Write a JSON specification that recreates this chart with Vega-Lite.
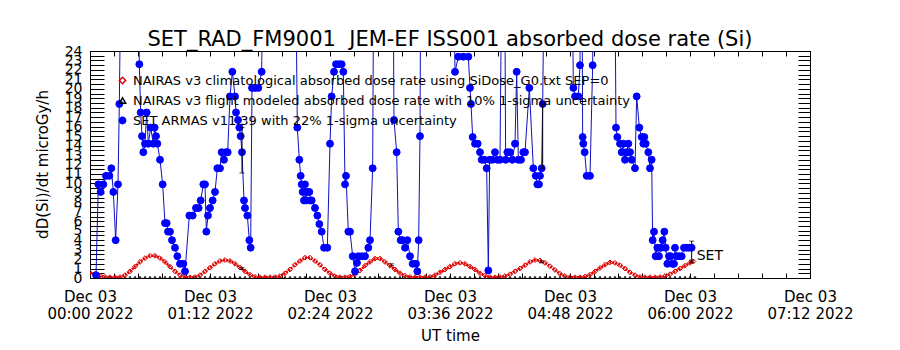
{
  "$schema": "https://vega.github.io/schema/vega-lite/v6.json",
  "width": 720,
  "height": 227,
  "autosize": "none",
  "padding": {"left": 90, "top": 51, "right": 90, "bottom": 72},
  "background": "white",
  "config": {
    "font": "DejaVu Sans",
    "view": {"stroke": "black", "strokeWidth": 1},
    "axis": {"domainColor": "black", "tickColor": "black", "labelColor": "black", "titleColor": "black", "grid": false, "labelFlush": false, "labelOverlap": false, "titleFontWeight": "normal"}
  },
  "title": {"text": "SET_RAD_FM9001\u00a0\u00a0JEM-EF ISS001 absorbed dose rate (Si)", "fontSize": 21, "fontWeight": "normal", "anchor": "middle", "offset": -6, "color": "black", "font": "DejaVu Sans"},
  "datasets": {
    "blue": [
      {"t":3.6,"v":0.3,"s":"SET"},{"t":5,"v":9.9,"s":"SET"},{"t":6.4,"v":9.1,"s":"SET"},{"t":8,"v":9.9,"s":"SET"},{"t":9.6,"v":10.8,"s":"SET"},{"t":11.6,"v":10.8,"s":"SET"},{"t":12.8,"v":11.6,"s":"SET"},{"t":14,"v":9.1,"s":"SET"},{"t":15.4,"v":4.0,"s":"SET"},{"t":16.8,"v":9.9,"s":"SET"},{"t":17.6,"v":18.4,"s":"SET"},{"t":19,"v":40,"s":"SET"},{"t":28.6,"v":40,"s":"SET"},{"t":29.6,"v":22.6,"s":"SET"},{"t":30.4,"v":17.5,"s":"SET"},{"t":31.2,"v":15.0,"s":"SET"},{"t":32,"v":13.3,"s":"SET"},{"t":33,"v":14.2,"s":"SET"},{"t":34,"v":17.5,"s":"SET"},{"t":35,"v":14.2,"s":"SET"},{"t":36.4,"v":15.9,"s":"SET"},{"t":38,"v":14.2,"s":"SET"},{"t":38.8,"v":15.9,"s":"SET"},{"t":39.6,"v":15.0,"s":"SET"},{"t":40.4,"v":14.2,"s":"SET"},{"t":42,"v":12.5,"s":"SET"},{"t":43.6,"v":9.9,"s":"SET"},{"t":45,"v":5.8,"s":"SET"},{"t":46,"v":5.8,"s":"SET"},{"t":46.8,"v":4.9,"s":"SET"},{"t":48,"v":4.9,"s":"SET"},{"t":49.2,"v":4.0,"s":"SET"},{"t":51,"v":3.2,"s":"SET"},{"t":52.4,"v":2.3,"s":"SET"},{"t":54,"v":1.5,"s":"SET"},{"t":56,"v":1.5,"s":"SET"},{"t":57,"v":0.7,"s":"SET"},{"t":59.6,"v":6.6,"s":"SET"},{"t":61.6,"v":6.6,"s":"SET"},{"t":63.6,"v":7.4,"s":"SET"},{"t":65.2,"v":7.4,"s":"SET"},{"t":66.4,"v":8.2,"s":"SET"},{"t":68,"v":9.9,"s":"SET"},{"t":69,"v":9.9,"s":"SET"},{"t":69.8,"v":4.9,"s":"SET"},{"t":70.8,"v":6.6,"s":"SET"},{"t":72,"v":7.4,"s":"SET"},{"t":73.6,"v":8.2,"s":"SET"},{"t":75,"v":9.1,"s":"SET"},{"t":76.4,"v":11.6,"s":"SET"},{"t":78,"v":11.6,"s":"SET"},{"t":79,"v":13.3,"s":"SET"},{"t":80.4,"v":12.5,"s":"SET"},{"t":81.6,"v":13.3,"s":"SET"},{"t":82.6,"v":13.3,"s":"SET"},{"t":84,"v":19.2,"s":"SET"},{"t":85.4,"v":21.8,"s":"SET"},{"t":87,"v":19.2,"s":"SET"},{"t":87.6,"v":17.5,"s":"SET"},{"t":88.8,"v":16.7,"s":"SET"},{"t":89.6,"v":15.9,"s":"SET"},{"t":90.4,"v":15.0,"s":"SET"},{"t":91.2,"v":13.3,"s":"SET"},{"t":92.4,"v":8.2,"s":"SET"},{"t":93,"v":7.4,"s":"SET"},{"t":94.4,"v":6.6,"s":"SET"},{"t":95.6,"v":4.0,"s":"SET"},{"t":96.4,"v":3.2,"s":"SET"},{"t":97.2,"v":20.1,"s":"SET"},{"t":99,"v":20.1,"s":"SET"},{"t":101,"v":20.1,"s":"SET"},{"t":103,"v":21.8,"s":"SET"},{"t":104,"v":40,"s":"SET"},
      {"t":123,"v":40,"s":"SET"},{"t":124.4,"v":15.9,"s":"SET"},{"t":125.6,"v":12.5,"s":"SET"},{"t":126.4,"v":10.8,"s":"SET"},{"t":127,"v":9.9,"s":"SET"},{"t":127.6,"v":9.1,"s":"SET"},{"t":128.4,"v":8.2,"s":"SET"},{"t":129,"v":9.9,"s":"SET"},{"t":129.6,"v":8.2,"s":"SET"},{"t":130.4,"v":9.1,"s":"SET"},{"t":131.6,"v":9.1,"s":"SET"},{"t":132.2,"v":8.2,"s":"SET"},{"t":133,"v":8.2,"s":"SET"},{"t":135,"v":7.4,"s":"SET"},{"t":136.4,"v":6.6,"s":"SET"},{"t":137.6,"v":5.7,"s":"SET"},{"t":139,"v":4.9,"s":"SET"},{"t":140.4,"v":3.2,"s":"SET"},{"t":142.4,"v":3.2,"s":"SET"},{"t":144,"v":14.2,"s":"SET"},{"t":145,"v":19.2,"s":"SET"},{"t":146.4,"v":21.8,"s":"SET"},{"t":147.6,"v":22.6,"s":"SET"},{"t":149.4,"v":22.6,"s":"SET"},{"t":151,"v":22.6,"s":"SET"},{"t":152,"v":21.8,"s":"SET"},{"t":153,"v":9.9,"s":"SET"},{"t":153.6,"v":10.8,"s":"SET"},{"t":155,"v":4.9,"s":"SET"},{"t":156,"v":4.9,"s":"SET"},{"t":157.6,"v":2.3,"s":"SET"},{"t":159,"v":0.7,"s":"SET"},{"t":160.2,"v":1.6,"s":"SET"},{"t":161,"v":2.3,"s":"SET"},{"t":163,"v":2.3,"s":"SET"},{"t":165,"v":2.3,"s":"SET"},{"t":167,"v":3.2,"s":"SET"},{"t":168,"v":4.0,"s":"SET"},{"t":169.6,"v":11.6,"s":"SET"},{"t":170.4,"v":40,"s":"SET"},
      {"t":181.6,"v":40,"s":"SET"},{"t":182.4,"v":16.7,"s":"SET"},{"t":184,"v":13.3,"s":"SET"},{"t":185,"v":4.9,"s":"SET"},{"t":186.4,"v":4.0,"s":"SET"},{"t":187.6,"v":4.0,"s":"SET"},{"t":189,"v":3.2,"s":"SET"},{"t":190.4,"v":4.0,"s":"SET"},{"t":192,"v":2.3,"s":"SET"},{"t":193.6,"v":1.5,"s":"SET"},{"t":195.6,"v":1.5,"s":"SET"},{"t":196.4,"v":0.7,"s":"SET"},{"t":197.2,"v":4.0,"s":"SET"},{"t":198,"v":15.0,"s":"SET"},{"t":198.6,"v":40,"s":"SET"},
      {"t":217.5,"v":40,"s":"SET"},{"t":219,"v":21.8,"s":"SET"},{"t":221,"v":23.4,"s":"SET"},{"t":224,"v":23.4,"s":"SET"},{"t":227,"v":23.4,"s":"SET"},{"t":228,"v":20.1,"s":"SET"},{"t":228.6,"v":18.4,"s":"SET"},{"t":229.6,"v":14.9,"s":"SET"},{"t":231,"v":14.2,"s":"SET"},{"t":232.6,"v":14.2,"s":"SET"},{"t":234,"v":13.3,"s":"SET"},{"t":235,"v":12.5,"s":"SET"},{"t":236.6,"v":12.5,"s":"SET"},{"t":238,"v":11.6,"s":"SET"},{"t":239,"v":0.8,"s":"SET"},{"t":239.8,"v":12.5,"s":"SET"},{"t":241.4,"v":12.5,"s":"SET"},{"t":243,"v":13.3,"s":"SET"},{"t":244.4,"v":12.5,"s":"SET"},{"t":246,"v":12.5,"s":"SET"},{"t":247.4,"v":40,"s":"SET"},{"t":248.6,"v":40,"s":"SET"},{"t":249.4,"v":12.5,"s":"SET"},{"t":250.4,"v":13.3,"s":"SET"},{"t":252,"v":13.3,"s":"SET"},{"t":253.4,"v":12.5,"s":"SET"},{"t":255,"v":14.2,"s":"SET"},{"t":256,"v":21.8,"s":"SET"},{"t":257,"v":12.5,"s":"SET"},{"t":258.6,"v":12.5,"s":"SET"},{"t":260,"v":13.3,"s":"SET"},{"t":261,"v":13.3,"s":"SET"},{"t":263.6,"v":20.1,"s":"SET"},{"t":266,"v":11.6,"s":"SET"},{"t":267.4,"v":10.8,"s":"SET"},{"t":268.4,"v":9.9,"s":"SET"},{"t":269.4,"v":9.9,"s":"SET"},{"t":270,"v":10.8,"s":"SET"},{"t":271,"v":11.6,"s":"SET"},{"t":271.6,"v":18.4,"s":"SET"},{"t":273,"v":40,"s":"SET"},
      {"t":289,"v":40,"s":"SET"},{"t":290,"v":20.1,"s":"SET"},{"t":291,"v":19.2,"s":"SET"},{"t":293,"v":19.2,"s":"SET"},{"t":294,"v":22.5,"s":"SET"},{"t":294.6,"v":40,"s":"SET"},{"t":295,"v":40,"s":"SET"},{"t":295.6,"v":14.9,"s":"SET"},{"t":296,"v":14.2,"s":"SET"},{"t":296.8,"v":13.3,"s":"SET"},{"t":298,"v":10.8,"s":"SET"},{"t":300,"v":10.8,"s":"SET"},{"t":301.6,"v":22.5,"s":"SET"},{"t":302.4,"v":40,"s":"SET"},
      {"t":314.6,"v":40,"s":"SET"},{"t":315.6,"v":15.9,"s":"SET"},{"t":316.4,"v":14.9,"s":"SET"},{"t":318,"v":14.2,"s":"SET"},{"t":319,"v":13.3,"s":"SET"},{"t":320,"v":14.2,"s":"SET"},{"t":321,"v":12.5,"s":"SET"},{"t":322,"v":13.3,"s":"SET"},{"t":323,"v":14.2,"s":"SET"},{"t":324,"v":13.3,"s":"SET"},{"t":325,"v":12.5,"s":"SET"},{"t":327,"v":11.6,"s":"SET"},{"t":328,"v":19.2,"s":"SET"},{"t":329.6,"v":15.9,"s":"SET"},{"t":331,"v":14.9,"s":"SET"},{"t":332,"v":14.2,"s":"SET"},{"t":332.6,"v":14.9,"s":"SET"},{"t":333.4,"v":14.2,"s":"SET"},{"t":335,"v":13.3,"s":"SET"},{"t":336,"v":11.6,"s":"SET"},{"t":337,"v":12.5,"s":"SET"},{"t":337.6,"v":4.0,"s":"SET"},{"t":338.4,"v":4.9,"s":"SET"},{"t":339.4,"v":2.3,"s":"SET"},{"t":340.4,"v":3.2,"s":"SET"},{"t":341.4,"v":2.3,"s":"SET"},{"t":342.6,"v":3.2,"s":"SET"},{"t":343.6,"v":4.0,"s":"SET"},{"t":344.6,"v":4.9,"s":"SET"},{"t":345.4,"v":3.2,"s":"SET"},{"t":346.4,"v":1.5,"s":"SET"},{"t":347.4,"v":2.3,"s":"SET"},{"t":348.4,"v":2.3,"s":"SET"},{"t":349.4,"v":1.5,"s":"SET"},{"t":350.4,"v":1.5,"s":"SET"},{"t":351,"v":3.2,"s":"SET"},{"t":352,"v":2.3,"s":"SET"},{"t":353.4,"v":2.3,"s":"SET"},{"t":355,"v":2.3,"s":"SET"},{"t":356.4,"v":3.2,"s":"SET"},{"t":358,"v":3.2,"s":"SET"},{"t":359.6,"v":3.2,"s":"SET"},{"t":361,"v":3.2,"s":"SET"}
    ],
    "red": [
      {"t":0,"v":0.55,"s":"clim"},{"t":3,"v":0.4,"s":"clim"},{"t":6,"v":0.25,"s":"clim"},{"t":9,"v":0.12,"s":"clim"},{"t":12,"v":0.08,"s":"clim"},{"t":15,"v":0.08,"s":"clim"},{"t":18,"v":0.1,"s":"clim"},{"t":21,"v":0.3,"s":"clim"},{"t":24,"v":0.7,"s":"clim"},{"t":27,"v":1.2,"s":"clim"},{"t":30,"v":1.7,"s":"clim"},{"t":33,"v":2.1,"s":"clim"},{"t":36,"v":2.35,"s":"clim"},{"t":39,"v":2.35,"s":"clim"},{"t":42,"v":2.1,"s":"clim"},{"t":45,"v":1.7,"s":"clim"},{"t":48,"v":1.2,"s":"clim"},{"t":51,"v":0.7,"s":"clim"},{"t":54,"v":0.3,"s":"clim"},{"t":57,"v":0.1,"s":"clim"},{"t":60,"v":0.08,"s":"clim"},{"t":63,"v":0.1,"s":"clim"},
      {"t":66,"v":0.3,"s":"clim"},{"t":69,"v":0.7,"s":"clim"},{"t":72,"v":1.1,"s":"clim"},{"t":75,"v":1.5,"s":"clim"},{"t":78,"v":1.8,"s":"clim"},{"t":81,"v":1.9,"s":"clim"},{"t":84,"v":1.8,"s":"clim"},{"t":87,"v":1.5,"s":"clim"},{"t":90,"v":1.1,"s":"clim"},{"t":93,"v":0.7,"s":"clim"},{"t":96,"v":0.35,"s":"clim"},{"t":99,"v":0.12,"s":"clim"},{"t":102,"v":0.08,"s":"clim"},{"t":105,"v":0.08,"s":"clim"},{"t":108,"v":0.08,"s":"clim"},{"t":111,"v":0.1,"s":"clim"},{"t":114,"v":0.2,"s":"clim"},
      {"t":117,"v":0.5,"s":"clim"},{"t":120,"v":0.9,"s":"clim"},{"t":123,"v":1.4,"s":"clim"},{"t":126,"v":1.8,"s":"clim"},{"t":129,"v":2.15,"s":"clim"},{"t":132,"v":2.15,"s":"clim"},{"t":135,"v":1.8,"s":"clim"},{"t":138,"v":1.4,"s":"clim"},{"t":141,"v":0.9,"s":"clim"},{"t":144,"v":0.5,"s":"clim"},{"t":147,"v":0.2,"s":"clim"},{"t":150,"v":0.08,"s":"clim"},{"t":153,"v":0.08,"s":"clim"},{"t":156,"v":0.15,"s":"clim"},
      {"t":159,"v":0.4,"s":"clim"},{"t":162,"v":0.8,"s":"clim"},{"t":165,"v":1.3,"s":"clim"},{"t":168,"v":1.7,"s":"clim"},{"t":171,"v":2.05,"s":"clim"},{"t":174,"v":2.05,"s":"clim"},{"t":177,"v":1.7,"s":"clim"},{"t":180,"v":1.3,"s":"clim"},{"t":183,"v":0.9,"s":"clim"},{"t":186,"v":0.5,"s":"clim"},{"t":189,"v":0.25,"s":"clim"},{"t":192,"v":0.1,"s":"clim"},{"t":195,"v":0.08,"s":"clim"},{"t":198,"v":0.08,"s":"clim"},{"t":201,"v":0.08,"s":"clim"},{"t":204,"v":0.12,"s":"clim"},
      {"t":207,"v":0.3,"s":"clim"},{"t":210,"v":0.6,"s":"clim"},{"t":213,"v":0.9,"s":"clim"},{"t":216,"v":1.2,"s":"clim"},{"t":219,"v":1.5,"s":"clim"},{"t":222,"v":1.6,"s":"clim"},{"t":225,"v":1.5,"s":"clim"},{"t":228,"v":1.2,"s":"clim"},{"t":231,"v":0.9,"s":"clim"},{"t":234,"v":0.5,"s":"clim"},{"t":237,"v":0.25,"s":"clim"},{"t":240,"v":0.1,"s":"clim"},{"t":243,"v":0.08,"s":"clim"},{"t":246,"v":0.1,"s":"clim"},{"t":249,"v":0.2,"s":"clim"},
      {"t":252,"v":0.4,"s":"clim"},{"t":255,"v":0.7,"s":"clim"},{"t":258,"v":1.0,"s":"clim"},{"t":261,"v":1.35,"s":"clim"},{"t":264,"v":1.7,"s":"clim"},{"t":267,"v":1.9,"s":"clim"},{"t":270,"v":1.85,"s":"clim"},{"t":273,"v":1.6,"s":"clim"},{"t":276,"v":1.25,"s":"clim"},{"t":279,"v":0.85,"s":"clim"},{"t":282,"v":0.45,"s":"clim"},{"t":285,"v":0.2,"s":"clim"},{"t":288,"v":0.08,"s":"clim"},{"t":291,"v":0.08,"s":"clim"},{"t":294,"v":0.08,"s":"clim"},{"t":297,"v":0.15,"s":"clim"},
      {"t":300,"v":0.35,"s":"clim"},{"t":303,"v":0.7,"s":"clim"},{"t":306,"v":1.05,"s":"clim"},{"t":309,"v":1.4,"s":"clim"},{"t":312,"v":1.65,"s":"clim"},{"t":315,"v":1.6,"s":"clim"},{"t":318,"v":1.35,"s":"clim"},{"t":321,"v":1.0,"s":"clim"},{"t":324,"v":0.6,"s":"clim"},{"t":327,"v":0.3,"s":"clim"},{"t":330,"v":0.12,"s":"clim"},{"t":333,"v":0.08,"s":"clim"},{"t":336,"v":0.08,"s":"clim"},{"t":339,"v":0.08,"s":"clim"},{"t":342,"v":0.1,"s":"clim"},{"t":345,"v":0.2,"s":"clim"},{"t":348,"v":0.4,"s":"clim"},{"t":351,"v":0.7,"s":"clim"},{"t":354,"v":1.0,"s":"clim"},{"t":357,"v":1.3,"s":"clim"},{"t":360,"v":1.6,"s":"clim"},{"t":362,"v":1.75,"s":"clim"}
    ],
    "black": [
      {"t":0,"v":0,"s":"flight"},{"t":3,"v":0,"s":"flight"},{"t":6,"v":0,"s":"flight"},{"t":9,"v":0,"s":"flight"},{"t":12,"v":0,"s":"flight"},{"t":15,"v":0,"s":"flight"},{"t":18,"v":0,"s":"flight"},{"t":21,"v":0,"s":"flight"},{"t":24,"v":0,"s":"flight"},{"t":27,"v":0,"s":"flight"},{"t":30,"v":0,"s":"flight"},{"t":33,"v":0,"s":"flight"},{"t":36,"v":0,"s":"flight"},{"t":39,"v":0,"s":"flight"},{"t":42,"v":0,"s":"flight"},{"t":45,"v":0,"s":"flight"},{"t":48,"v":0,"s":"flight"},{"t":51,"v":0,"s":"flight"},{"t":54,"v":0,"s":"flight"},{"t":57,"v":0,"s":"flight"},{"t":60,"v":0,"s":"flight"},{"t":63,"v":0,"s":"flight"},{"t":66,"v":0,"s":"flight"},{"t":69,"v":0,"s":"flight"},{"t":72,"v":0,"s":"flight"},{"t":75,"v":0,"s":"flight"},{"t":78,"v":0,"s":"flight"},{"t":81,"v":0,"s":"flight"},{"t":84,"v":0,"s":"flight"},{"t":87,"v":0,"s":"flight"},{"t":90,"v":0,"s":"flight"},{"t":93,"v":0,"s":"flight"},{"t":96,"v":0,"s":"flight"},{"t":99,"v":0,"s":"flight"},{"t":102,"v":0,"s":"flight"},{"t":105,"v":0,"s":"flight"},{"t":108,"v":0,"s":"flight"},{"t":111,"v":0,"s":"flight"},{"t":114,"v":0,"s":"flight"},{"t":117,"v":0,"s":"flight"},{"t":120,"v":0,"s":"flight"},{"t":123,"v":0,"s":"flight"},{"t":126,"v":0,"s":"flight"},{"t":129,"v":0,"s":"flight"},{"t":132,"v":0,"s":"flight"},{"t":135,"v":0,"s":"flight"},{"t":138,"v":0,"s":"flight"},{"t":141,"v":0,"s":"flight"},{"t":144,"v":0,"s":"flight"},{"t":147,"v":0,"s":"flight"},{"t":150,"v":0,"s":"flight"},{"t":153,"v":0,"s":"flight"},{"t":156,"v":0,"s":"flight"},{"t":159,"v":0,"s":"flight"},{"t":162,"v":0,"s":"flight"},{"t":165,"v":0,"s":"flight"},{"t":168,"v":0,"s":"flight"},{"t":171,"v":0,"s":"flight"},{"t":174,"v":0,"s":"flight"},{"t":177,"v":0,"s":"flight"},{"t":180,"v":0,"s":"flight"},{"t":183,"v":0,"s":"flight"},{"t":186,"v":0,"s":"flight"},{"t":189,"v":0,"s":"flight"},{"t":192,"v":0,"s":"flight"},{"t":195,"v":0,"s":"flight"},{"t":198,"v":0,"s":"flight"},{"t":201,"v":0,"s":"flight"},{"t":204,"v":0,"s":"flight"},{"t":207,"v":0,"s":"flight"},{"t":210,"v":0,"s":"flight"},{"t":213,"v":0,"s":"flight"},{"t":216,"v":0,"s":"flight"},{"t":219,"v":0,"s":"flight"},{"t":222,"v":0,"s":"flight"},{"t":225,"v":0,"s":"flight"},{"t":228,"v":0,"s":"flight"},{"t":231,"v":0,"s":"flight"},{"t":234,"v":0,"s":"flight"},{"t":237,"v":0,"s":"flight"},{"t":240,"v":0,"s":"flight"},{"t":243,"v":0,"s":"flight"},{"t":246,"v":0,"s":"flight"},{"t":249,"v":0,"s":"flight"},{"t":252,"v":0,"s":"flight"},{"t":255,"v":0,"s":"flight"},{"t":258,"v":0,"s":"flight"},{"t":261,"v":0,"s":"flight"},{"t":264,"v":0,"s":"flight"},{"t":267,"v":0,"s":"flight"},{"t":270,"v":0,"s":"flight"},{"t":273,"v":0,"s":"flight"},{"t":276,"v":0,"s":"flight"},{"t":279,"v":0,"s":"flight"},{"t":282,"v":0,"s":"flight"},{"t":285,"v":0,"s":"flight"},{"t":288,"v":0,"s":"flight"},{"t":291,"v":0,"s":"flight"},{"t":294,"v":0,"s":"flight"},{"t":297,"v":0,"s":"flight"},{"t":300,"v":0,"s":"flight"},{"t":303,"v":0,"s":"flight"},{"t":306,"v":0,"s":"flight"},{"t":309,"v":0,"s":"flight"},{"t":312,"v":0,"s":"flight"},{"t":315,"v":0,"s":"flight"},{"t":318,"v":0,"s":"flight"},{"t":321,"v":0,"s":"flight"},{"t":324,"v":0,"s":"flight"},{"t":327,"v":0,"s":"flight"},{"t":330,"v":0,"s":"flight"},{"t":333,"v":0,"s":"flight"},{"t":336,"v":0,"s":"flight"},{"t":339,"v":0,"s":"flight"},{"t":342,"v":0,"s":"flight"},{"t":345,"v":0,"s":"flight"},{"t":348,"v":0,"s":"flight"},{"t":351,"v":0,"s":"flight"},{"t":354,"v":0,"s":"flight"},{"t":357,"v":0,"s":"flight"},{"t":360,"v":0,"s":"flight"},{"t":363,"v":0,"s":"flight"}
    ],
    "err": [
      {"t":91.2,"lo":11.1,"hi":15.9},{"t":271.6,"lo":11.6,"hi":18.4},{"t":361,"lo":1.9,"hi":3.9},
      {"t":91.2,"lo":0.9,"hi":1.1},{"t":181,"lo":1.3,"hi":1.5},{"t":271,"lo":1.6,"hi":1.8},{"t":361,"lo":1.6,"hi":1.8}
    ],
    "lbl": [{"t":364,"v":2.3,"label":"SET"}]
  },
  "resolve": {"axis": {"x": "independent", "y": "independent"}},
  "layer": [
    {
      "data": {"name": "black"},
      "mark": {"type": "point", "clip": true, "opacity": 1, "strokeWidth": 1, "size": 16},
      "encoding": {
        "x": {"field": "t", "type": "quantitative", "scale": {"domain": [0, 432], "nice": false, "zero": false},
              "axis": {"orient": "top", "values": [0,14.4,28.8,43.2,57.6,72,86.4,100.8,115.2,129.6,144,158.4,172.8,187.2,201.6,216,230.4,244.8,259.2,273.6,288,302.4,316.8,331.2,345.6,360,374.4,388.8,403.2,417.6,432], "labels": false, "tickSize": -5, "title": null}},
        "y": {"field": "v", "type": "quantitative", "scale": {"domain": [0, 24], "nice": false, "zero": false},
              "axis": {"orient": "right", "values": [0,0.5,1,1.5,2,2.5,3,3.5,4,4.5,5,5.5,6,6.5,7,7.5,8,8.5,9,9.5,10,10.5,11,11.5,12,12.5,13,13.5,14,14.5,15,15.5,16,16.5,17,17.5,18,18.5,19,19.5,20,20.5,21,21.5,22,22.5,23,23.5,24], "labels": false, "tickSize": -12, "title": null}},
        "shape": {"field": "s", "type": "nominal", "scale": {"domain": ["clim", "flight", "SET"], "range": ["diamond", "triangle-up", "circle"]}},
        "stroke": {"field": "s", "type": "nominal", "scale": {"domain": ["clim", "flight", "SET"], "range": ["#e00000", "black", "#0000ff"]}},
        "fill": {"field": "s", "type": "nominal", "scale": {"domain": ["clim", "flight", "SET"], "range": ["transparent", "transparent", "#0000ff"]}}
      }
    },
    {
      "data": {"name": "red"},
      "mark": {"type": "line", "clip": true, "color": "#e00000", "strokeWidth": 2.5, "strokeDash": [2, 1]},
      "encoding": {
        "x": {"field": "t", "type": "quantitative", "axis": null},
        "y": {"field": "v", "type": "quantitative", "axis": null}
      }
    },
    {
      "data": {"name": "red"},
      "mark": {"type": "point", "clip": true, "opacity": 1, "strokeWidth": 1, "size": 24},
      "encoding": {
        "x": {"field": "t", "type": "quantitative", "axis": null},
        "y": {"field": "v", "type": "quantitative", "axis": null},
        "shape": {"field": "s", "type": "nominal"},
        "stroke": {"field": "s", "type": "nominal"},
        "fill": {"field": "s", "type": "nominal"}
      }
    },
    {
      "data": {"name": "blue"},
      "mark": {"type": "line", "clip": true, "color": "#1010c0", "strokeWidth": 1},
      "encoding": {
        "x": {"field": "t", "type": "quantitative",
              "axis": {"orient": "bottom", "values": [0,14.4,28.8,43.2,57.6,72,86.4,100.8,115.2,129.6,144,158.4,172.8,187.2,201.6,216,230.4,244.8,259.2,273.6,288,302.4,316.8,331.2,345.6,360,374.4,388.8,403.2,417.6,432],
                       "tickSize": -5, "labelPadding": 16, "labelFontSize": 15, "labelLineHeight": 17, "labelBaseline": "top",
                       "labelExpr": "abs(datum.value/72 - round(datum.value/72)) < 0.01 ? ['Dec 03', (floor(datum.value/60) < 10 ? '0' : '') + floor(datum.value/60) + ':' + (round(datum.value % 60) < 10 ? '0' : '') + round(datum.value % 60) + ' 2022'] : ''",
                       "title": "UT time", "titleFontSize": 15, "titleX": 360, "titleY": 62, "titleAlign": "center", "titleBaseline": "alphabetic"}},
        "y": {"field": "v", "type": "quantitative",
              "axis": {"orient": "left", "values": [0,0.5,1,1.5,2,2.5,3,3.5,4,4.5,5,5.5,6,6.5,7,7.5,8,8.5,9,9.5,10,10.5,11,11.5,12,12.5,13,13.5,14,14.5,15,15.5,16,16.5,17,17.5,18,18.5,19,19.5,20,20.5,21,21.5,22,22.5,23,23.5,24],
                       "tickSize": -14, "labelPadding": 22, "labelFontSize": 14,
                       "labelExpr": "datum.value % 1 == 0 ? datum.value : ''",
                       "title": "dD(Si)/dt microGy/h", "titleFontSize": 15, "titleX": -48, "titleY": 113, "titleAngle": -90, "titleAlign": "center", "titleBaseline": "middle"}}
      }
    },
    {
      "data": {"name": "blue"},
      "mark": {"type": "point", "clip": true, "opacity": 1, "strokeWidth": 1, "size": 48},
      "encoding": {
        "x": {"field": "t", "type": "quantitative", "axis": null},
        "y": {"field": "v", "type": "quantitative", "axis": null},
        "shape": {"field": "s", "type": "nominal",
                  "legend": {"orient": "none", "legendX": 26, "legendY": 23, "title": null, "padding": 0, "labelFontSize": 13, "labelLimit": 0, "rowPadding": 6, "symbolSize": 40, "labelColor": "black", "labelFont": "DejaVu Sans",
                             "labelExpr": "datum.value == 'clim' ? 'NAIRAS v3 climatological absorbed dose rate using SiDose_G0.txt SEP=0' : datum.value == 'flight' ? 'NAIRAS v3 flight modeled absorbed dose rate with 10% 1-sigma uncertainty' : 'SET ARMAS v11.39 with 22% 1-sigma uncertainty'"}},
        "stroke": {"field": "s", "type": "nominal"},
        "fill": {"field": "s", "type": "nominal"}
      }
    },
    {
      "data": {"name": "err"},
      "mark": {"type": "errorbar", "ticks": true, "color": "black", "clip": true},
      "encoding": {
        "x": {"field": "t", "type": "quantitative", "axis": null},
        "y": {"field": "lo", "type": "quantitative", "axis": null},
        "y2": {"field": "hi"}
      }
    },
    {
      "data": {"name": "lbl"},
      "mark": {"type": "text", "align": "left", "baseline": "middle", "fontSize": 14, "color": "black"},
      "encoding": {
        "x": {"field": "t", "type": "quantitative", "axis": null},
        "y": {"field": "v", "type": "quantitative", "axis": null},
        "text": {"field": "label"}
      }
    }
  ]
}
